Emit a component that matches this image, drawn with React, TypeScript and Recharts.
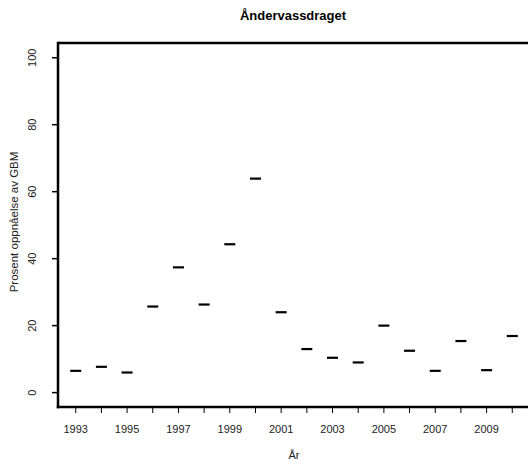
import { ReferenceLine, Scatter, ScatterChart, XAxis, YAxis } from 'recharts';

const years = [
  1993, 1994, 1995, 1996, 1997, 1998, 1999, 2000, 2001, 2002, 2003, 2004, 2005, 2006, 2007,
  2008, 2009, 2010,
];
const values = [
  6.5, 7.7, 6.0, 25.7, 37.4, 26.3, 44.3, 63.9, 24.0, 13.0, 10.4, 9.0, 20.0, 12.5, 6.5, 15.4,
  6.7, 16.9,
];
const yTicks = [0, 20, 40, 60, 80, 100];

const data = years.map((year, i) => ({ year, value: values[i] }));

const FONT = '"Liberation Sans", Arial, Helvetica, sans-serif';
const Y_MIN = -4.3;
const Y_MAX = 104.4;

const XTick = (props: any) => {
  const { x, y, payload } = props;
  // R drops every other label when they would overlap
  if (payload.value % 2 === 0) return null;
  return (
    <text x={x} y={y + 18} textAnchor="middle" fontSize={11} fill="#222" fontFamily={FONT}>
      {payload.value}
    </text>
  );
};

const YTick = (props: any) => {
  const { x, y, payload } = props;
  const cx = x - 18;
  return (
    <text
      x={cx}
      y={y}
      transform={`rotate(-90, ${cx}, ${y})`}
      textAnchor="middle"
      dominantBaseline="central"
      fontSize={11}
      fill="#222"
      fontFamily={FONT}
    >
      {payload.value}
    </text>
  );
};

const Dash = (props: any) => {
  const { cx, cy } = props;
  return <line x1={cx - 5.5} x2={cx + 5.5} y1={cy} y2={cy} stroke="#000" strokeWidth={2.2} />;
};

export default function App() {
  return (
    <div
      style={{
        position: 'fixed',
        left: 0,
        top: 0,
        width: 528,
        height: 466,
        overflow: 'hidden',
        background: '#fff',
        fontFamily: FONT,
      }}
    >
      {/* TITLE */}
      <div
        style={{
          position: 'absolute',
          left: 0,
          width: 586,
          top: 8,
          textAlign: 'center',
          fontSize: 13,
          fontWeight: 'bold',
          color: '#000',
          lineHeight: '16px',
        }}
      >
        Åndervassdraget
      </div>

      {/* AXIS TITLES */}
      <div
        style={{
          position: 'absolute',
          left: 0,
          width: 588,
          top: 448,
          textAlign: 'center',
          fontSize: 11,
          color: '#222',
          lineHeight: '14px',
        }}
      >
        År
      </div>

      <div style={{ position: 'absolute', left: 0, top: 0 }}>
        <ScatterChart width={540} height={466} margin={{ top: 43, right: 10, bottom: 0, left: 0 }}>
          <XAxis
            type="number"
            dataKey="year"
            domain={[1992.31, 2010.69]}
            ticks={years}
            interval={0}
            height={59}
            tickSize={6}
            tickMargin={2}
            tick={<XTick />}
            axisLine={{ stroke: '#000', strokeWidth: 2.5, strokeLinecap: 'square' }}
            tickLine={{ stroke: '#000', strokeWidth: 1 }}
          />
          <YAxis
            type="number"
            dataKey="value"
            domain={[Y_MIN, Y_MAX]}
            ticks={yTicks}
            interval={0}
            width={58}
            tickSize={6}
            tickMargin={2}
            tick={<YTick />}
            axisLine={{ stroke: '#000', strokeWidth: 2.5, strokeLinecap: 'square' }}
            tickLine={{ stroke: '#000', strokeWidth: 1.5 }}
            label={{
              content: (p: any) => {
                const vb = p.viewBox || { x: 0, y: 43, width: 58, height: 364 };
                const lx = vb.x + 14;
                const ly = vb.y + vb.height / 2 - 3;
                return (
                  <text
                    x={lx}
                    y={ly}
                    transform={`rotate(-90, ${lx}, ${ly})`}
                    textAnchor="middle"
                    dominantBaseline="central"
                    fontSize={11.5}
                    fill="#222"
                    fontFamily={FONT}
                  >
                    Prosent oppnåelse av GBM
                  </text>
                );
              },
            }}
          />
          <ReferenceLine y={Y_MAX} stroke="#000" strokeWidth={2.5} />
          <Scatter data={data} shape={<Dash />} isAnimationActive={false} />
        </ScatterChart>
      </div>
    </div>
  );
}
